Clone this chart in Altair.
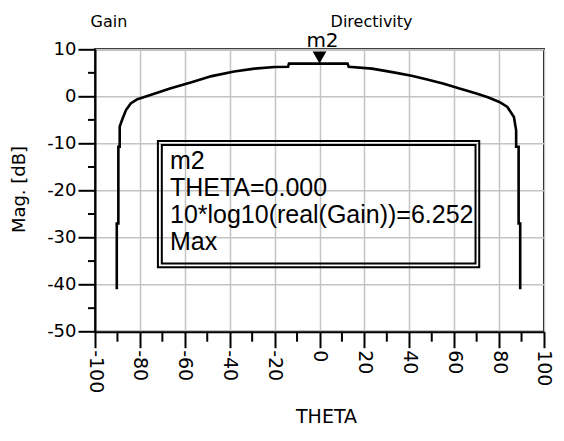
import altair as alt
import pandas as pd

# Gain curve (dB)
theta = [-90.3, -90.3, -89.6, -89.6, -89.0, -89.0, -87.7, -86.2, -84.1, -81.1,
         -75.3, -66.6, -57.0, -48.0, -38.0, -29.0, -20.0, -14.0, -13.6, 0.0,
         12.5, 13.0, 23.4, 33.0, 41.0, 48.0, 55.4, 62.0, 69.9, 75.0,
         80.1, 83.7, 86.6, 87.6, 87.6, 88.7, 88.7, 89.4, 89.4]
gain = [-41.0, -27.0, -27.0, -10.7, -10.7, -6.4, -4.7, -2.9, -1.5, -0.6,
        0.3, 1.65, 3.0, 4.3, 5.3, 5.9, 6.25, 6.3, 6.95, 6.95,
        6.95, 6.3, 5.9, 5.1, 4.4, 3.6, 2.7, 1.7, 0.6, -0.2,
        -1.2, -2.25, -4.4, -7.2, -10.7, -10.7, -27.0, -27.0, -41.0]

x_major = list(range(-100, 101, 20))
x_minor = list(range(-90, 91, 20))
y_major = list(range(-50, 11, 10))
y_minor = list(range(-45, 6, 10))

marker_theta = [0.0]
marker_y = [8.25]
marker_label = ["m2"]
marker_label_y = [10.55]

box_lines = ["m2", "THETA=0.000", "10*log10(real(Gain))=6.252", "Max"]
box_line_y = [-15.5, -21.2, -26.9, -32.6]
box_text_x = [-66.6] * 4

box_outer = {"x": [-71.98], "x2": [71.15], "y": [-9.48], "y2": [-36.29]}
box_inner = {"x": [-70.24], "x2": [69.5], "y": [-10.33], "y2": [-35.5]}

legend_names = ["Gain", "Directivity"]
legend_x = [-93.8, 23.2]
legend_y = [14.74, 14.74]

df = pd.DataFrame({"theta": theta, "gain": gain, "i": list(range(len(theta)))})

W, H = 449, 282.4
xscale = alt.Scale(domain=[-100, 100], nice=False, zero=False)
yscale = alt.Scale(domain=[-50, 10], nice=False, zero=False)

AX_FONT = "DejaVu Sans"

x_axis = alt.Axis(
    values=x_major,
    title="THETA",
    labelExpr="'' + datum.value",
    labelAngle=90, labelAlign="left", labelBaseline="middle",
    labelPadding=2, labelFont=AX_FONT, labelFontSize=19, labelColor="black",
    labelOverlap=False, labelFlush=False, labelBound=False,
    ticks=True, tickColor="black", tickWidth=2, tickSize=16,
    domainColor="black", domainWidth=2,
    grid=True, gridColor="#c4c4c4", gridWidth=1.5,
    titleFont=AX_FONT, titleFontSize=19, titleFontWeight="normal", titleColor="black",
    titleX=231, titleY=91, titleBaseline="alphabetic", titleAlign="center",
)

y_axis = alt.Axis(
    values=y_major,
    title="Mag.  [dB]",
    labelExpr="'' + datum.value",
    labelPadding=2, labelFont=AX_FONT, labelFontSize=18, labelColor="black",
    labelOverlap=False, labelFlush=False, labelBound=False,
    ticks=True, tickColor="black", tickWidth=2, tickSize=17,
    domainColor="black", domainWidth=2,
    grid=True, gridColor="#c4c4c4", gridWidth=1.5,
    titleFont=AX_FONT, titleFontSize=18, titleFontWeight="normal", titleColor="black",
    titleX=-71, titleY=139.7, titleAngle=270, titleBaseline="alphabetic", titleAlign="center",
)

curve = alt.Chart(df).mark_line(color="black", strokeWidth=2.6).encode(
    x=alt.X("theta:Q", scale=xscale, axis=x_axis),
    y=alt.Y("gain:Q", scale=yscale, axis=y_axis),
    order="i:Q",
)

# minor ticks
xm = alt.Chart(pd.DataFrame({"v": x_minor})).mark_rule(color="black", strokeWidth=2).encode(
    x=alt.X("v:Q", scale=xscale), y=alt.value(H), y2=alt.value(H + 10))
ym = alt.Chart(pd.DataFrame({"v": y_minor})).mark_rule(color="black", strokeWidth=2).encode(
    y=alt.Y("v:Q", scale=yscale), x=alt.value(-7), x2=alt.value(0))

mk_df = pd.DataFrame({"theta": marker_theta, "y": marker_y,
                      "label": marker_label, "ly": marker_label_y})
marker = alt.Chart(mk_df).mark_point(shape="triangle-down", filled=True, color="black",
                                     size=190, opacity=1).encode(
    x=alt.X("theta:Q", scale=xscale), y=alt.Y("y:Q", scale=yscale))
marker_text = alt.Chart(mk_df).mark_text(font=AX_FONT, fontSize=20, color="black",
                                         align="center", baseline="alphabetic", dx=3).encode(
    x=alt.X("theta:Q", scale=xscale), y=alt.Y("ly:Q", scale=yscale), text="label:N")

outer = alt.Chart(pd.DataFrame(box_outer)).mark_rect(
    fillOpacity=0, stroke="black", strokeWidth=2).encode(
    x=alt.X("x:Q", scale=xscale), x2="x2:Q", y=alt.Y("y:Q", scale=yscale), y2="y2:Q")
inner = alt.Chart(pd.DataFrame(box_inner)).mark_rect(
    fillOpacity=0, stroke="black", strokeWidth=2).encode(
    x=alt.X("x:Q", scale=xscale), x2="x2:Q", y=alt.Y("y:Q", scale=yscale), y2="y2:Q")

bt_df = pd.DataFrame({"x": box_text_x, "y": box_line_y, "t": box_lines})
box_text = alt.Chart(bt_df).mark_text(font="Liberation Sans", fontSize=25, color="black",
                                      align="left", baseline="alphabetic").encode(
    x=alt.X("x:Q", scale=xscale), y=alt.Y("y:Q", scale=yscale), text="t:N")

lg_df = pd.DataFrame({"x": legend_x, "y": legend_y, "t": legend_names})
legend_text = alt.Chart(lg_df).mark_text(font=AX_FONT, fontSize=16, color="black",
                                         align="center", baseline="alphabetic").encode(
    x=alt.X("x:Q", scale=xscale), y=alt.Y("y:Q", scale=yscale), text="t:N")

chart = alt.layer(curve, xm, ym, outer, inner, box_text, marker, marker_text, legend_text).properties(
    width=W, height=H,
    autosize=alt.AutoSizeParams(type="none"),
    padding={"left": 87, "top": 41.3, "right": 12, "bottom": 96},
    background="white",
).configure_view(stroke="black", strokeWidth=2)

chart.save("out.html", embed_options={"renderer": "svg", "actions": False})
